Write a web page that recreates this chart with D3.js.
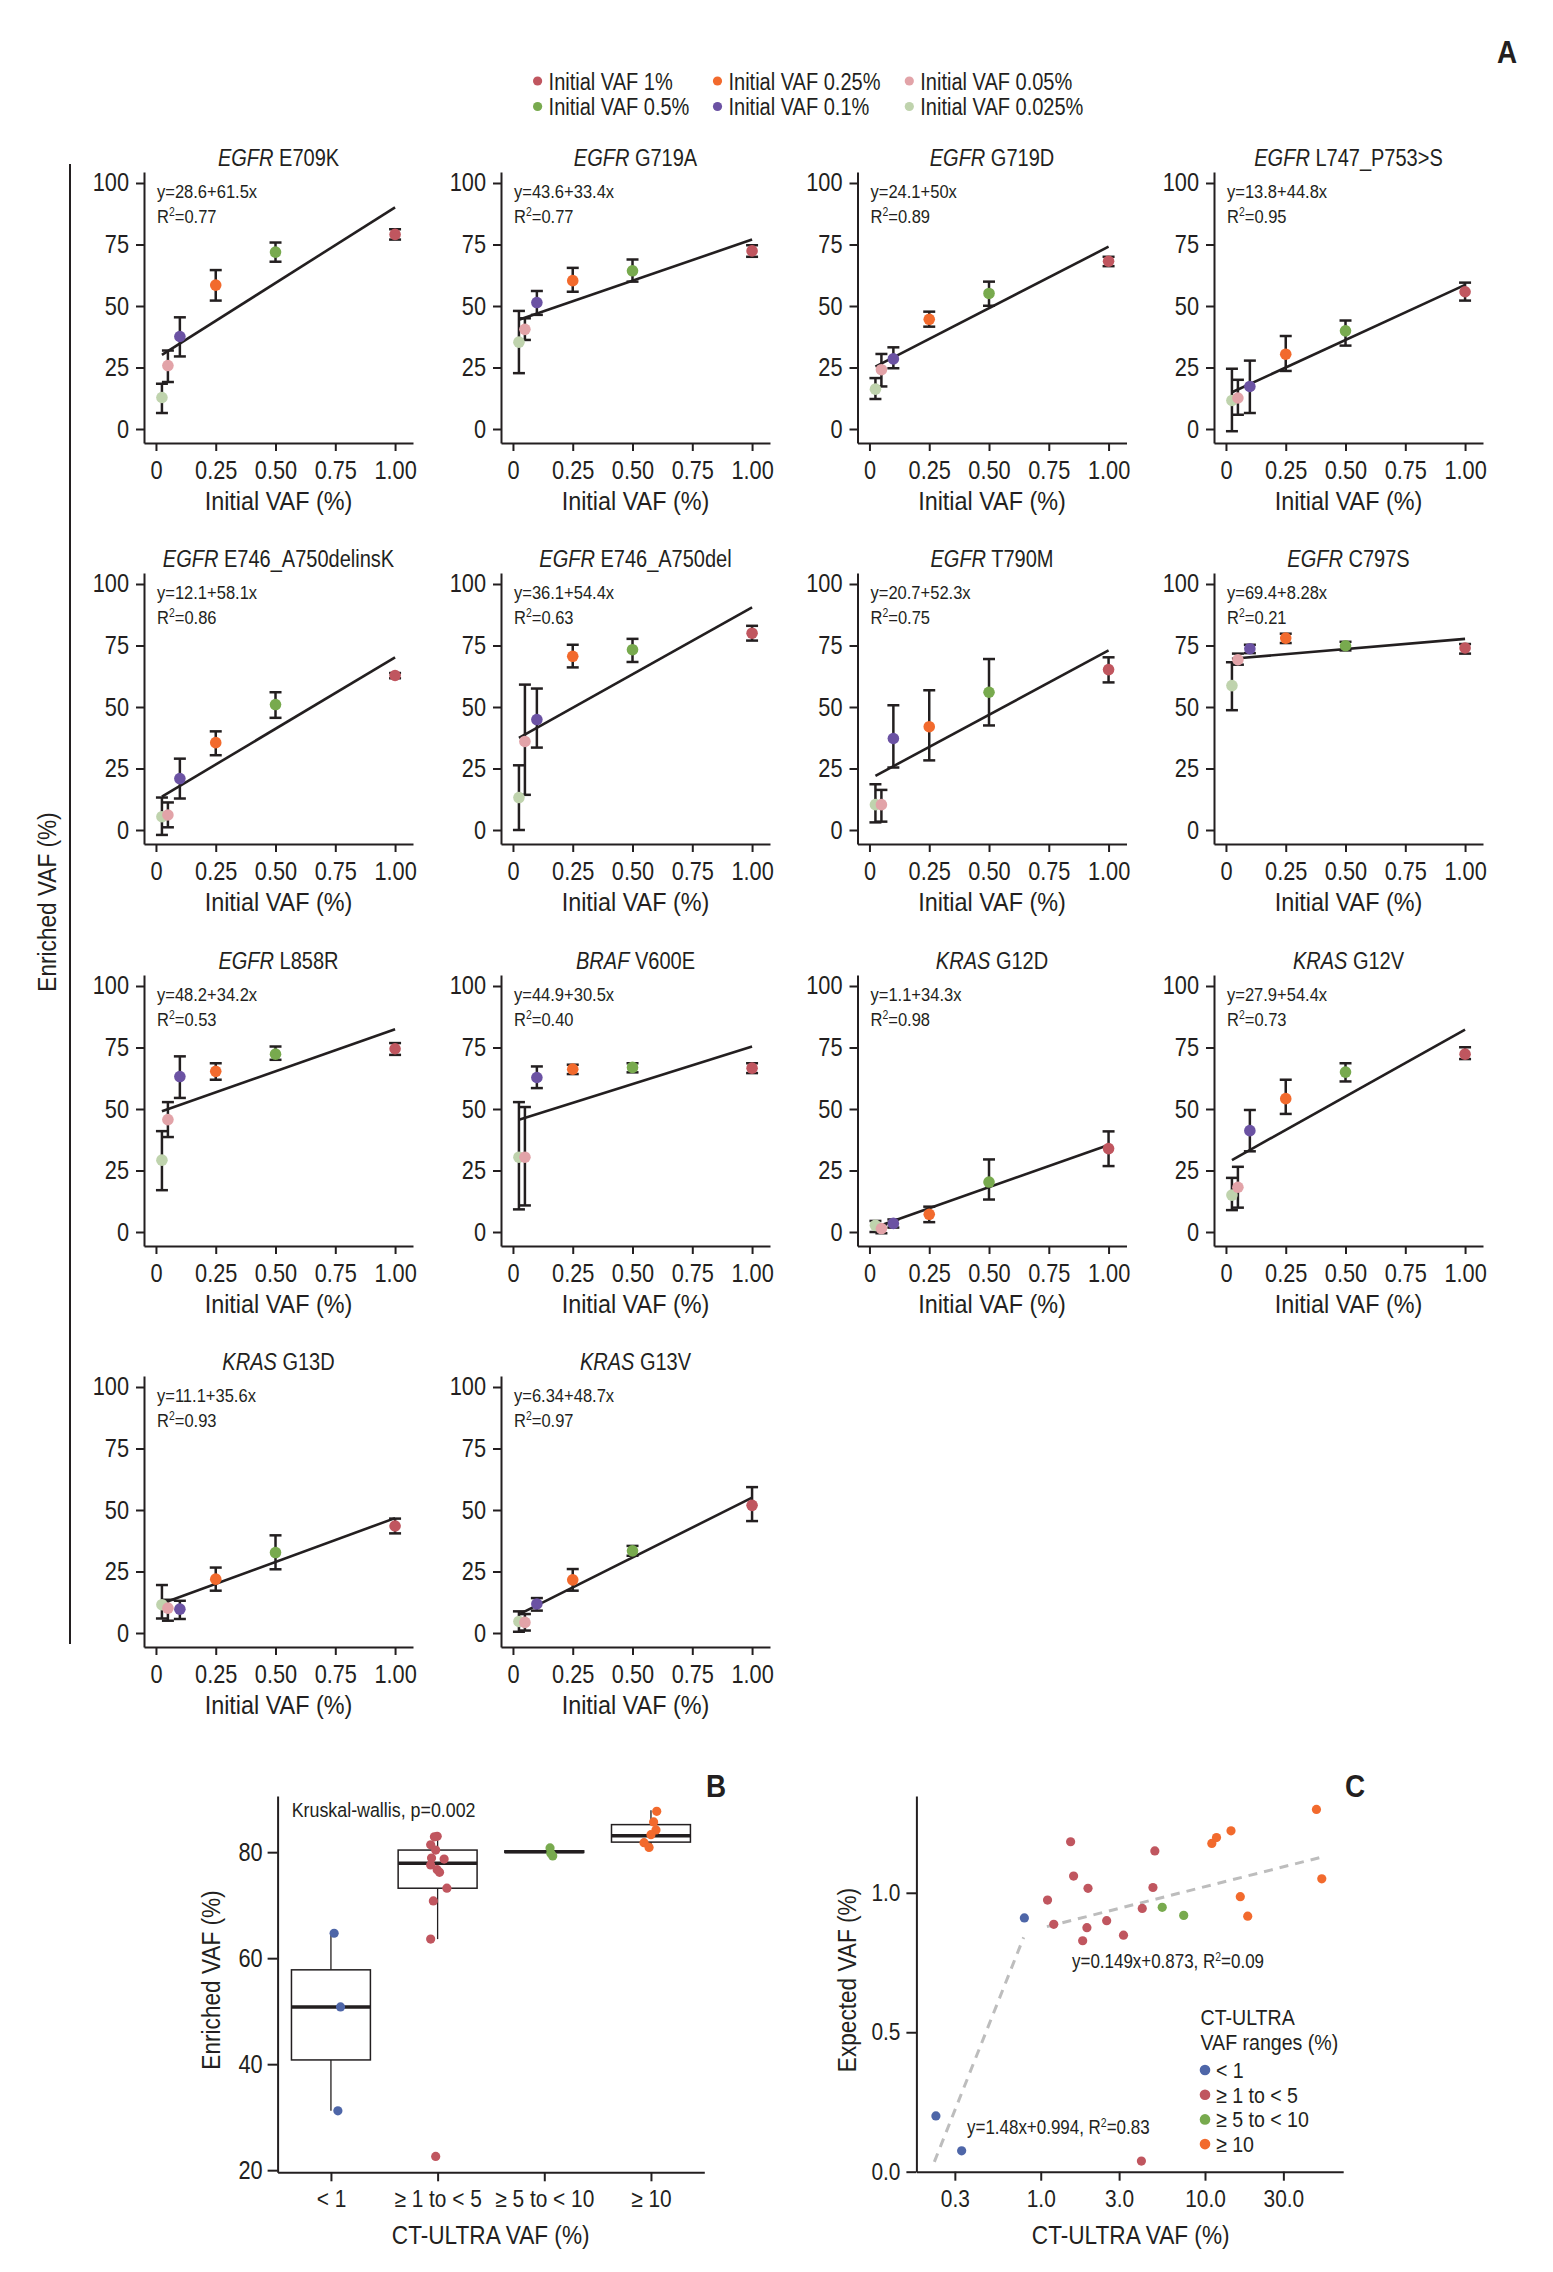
<!DOCTYPE html>
<html><head><meta charset="utf-8">
<script src="https://cdn.jsdelivr.net/npm/d3@7"></script>
<style>
body{margin:0;background:#fff;}
svg{display:block;font-family:"Liberation Sans",Arial,Helvetica,sans-serif;}
text{white-space:pre;}
</style></head><body>
<svg id="chart" width="1553" height="2272"></svg>
<script>
// ---------------- Panel A data ----------------
const initialVAF = [0.025, 0.05, 0.1, 0.25, 0.5, 1];
const vafColors = ["#bfd3ad", "#e2a3a8", "#6b52a3", "#f26a2d", "#78aa4e", "#c0565f"];
const legendOrder = [5, 4, 3, 2, 1, 0]; // 1%,0.5%,0.25%,0.1%,0.05%,0.025%
const vafLabels = ["Initial VAF 0.025%", "Initial VAF 0.05%", "Initial VAF 0.1%", "Initial VAF 0.25%", "Initial VAF 0.5%", "Initial VAF 1%"];
const xTicks = [0, 0.25, 0.5, 0.75, 1];
const xTickLabels = ["0", "0.25", "0.50", "0.75", "1.00"];
const yTicks = [0, 25, 50, 75, 100];

const genes = ["EGFR","EGFR","EGFR","EGFR","EGFR","EGFR","EGFR","EGFR","EGFR","BRAF","KRAS","KRAS","KRAS","KRAS"];
const variants = ["E709K","G719A","G719D","L747_P753>S","E746_A750delinsK","E746_A750del","T790M","C797S","L858R","V600E","G12D","G12V","G13D","G13V"];
const intercepts = [28.6, 43.6, 24.1, 13.8, 12.1, 36.1, 20.7, 69.4, 48.2, 44.9, 1.1, 27.9, 11.1, 6.34];
const slopes = [61.5, 33.4, 50, 44.8, 58.1, 54.4, 52.3, 8.28, 34.2, 30.5, 34.3, 54.4, 35.6, 48.7];
const r2Values = [0.77, 0.77, 0.89, 0.95, 0.86, 0.63, 0.75, 0.21, 0.53, 0.40, 0.98, 0.73, 0.93, 0.97];

const meanVAF = [
  [12.8, 25.8, 37.6, 58.5, 71.9, 79.1],
  [35.3, 40.5, 51.4, 60.3, 64.3, 72.4],
  [16.2, 24.1, 28.5, 44.6, 55.1, 68.2],
  [11.6, 12.6, 17.3, 30.4, 39.9, 55.8],
  [5.4, 6.1, 20.9, 35.5, 51.0, 62.8],
  [13.2, 36.0, 44.9, 70.6, 73.3, 80.0],
  [10.3, 10.3, 37.2, 42.0, 56.0, 65.2],
  [58.7, 69.2, 73.7, 78.0, 74.9, 74.0],
  [29.2, 45.7, 63.2, 65.3, 72.3, 74.5],
  [30.4, 30.4, 62.8, 66.2, 66.9, 66.6],
  [2.7, 1.4, 3.5, 7.2, 20.3, 33.9],
  [15.0, 18.2, 41.2, 54.2, 65.0, 72.3],
  [11.5, 10.1, 9.7, 21.9, 32.7, 43.5],
  [4.7, 4.3, 11.8, 21.6, 33.4, 51.9]
];
const lowerVAF = [
  [6.5, 19.1, 29.5, 52.2, 68.0, 77.0],
  [22.7, 36.2, 46.4, 55.8, 59.9, 70.0],
  [12.2, 17.3, 24.7, 41.6, 50.1, 66.2],
  [-0.9, 5.8, 6.5, 23.6, 33.9, 52.2],
  [-2.0, 1.1, 12.8, 30.4, 45.6, 61.7],
  [0.0, 14.3, 33.5, 66.1, 68.3, 77.0],
  [3.1, 3.4, 25.4, 28.3, 42.5, 60.0],
  [48.7, 67.2, 71.9, 76.0, 73.0, 71.7],
  [17.0, 38.6, 54.5, 61.9, 70.0, 72.0],
  [9.2, 10.8, 58.5, 64.2, 64.9, 64.6],
  [0.0, -0.5, 1.8, 4.0, 13.2, 26.8],
  [8.9, 9.9, 32.8, 48.0, 61.2, 70.3],
  [5.9, 5.0, 5.7, 17.2, 25.9, 40.5],
  [0.5, 1.0, 9.1, 17.2, 31.4, 45.5]
];
const upperVAF = [
  [18.4, 31.9, 45.4, 64.6, 75.8, 81.2],
  [48.0, 45.0, 56.1, 65.5, 68.9, 74.7],
  [20.7, 30.5, 33.2, 47.7, 59.9, 70.0],
  [24.5, 20.0, 27.8, 37.8, 44.1, 59.5],
  [13.2, 11.2, 29.0, 40.1, 56.0, 63.8],
  [26.3, 59.1, 57.5, 75.3, 77.7, 83.0],
  [18.6, 16.3, 50.7, 56.8, 69.5, 70.2],
  [68.2, 71.7, 75.3, 79.8, 76.5, 75.6],
  [41.0, 52.8, 71.4, 68.6, 75.4, 76.8],
  [52.8, 50.8, 67.3, 68.0, 68.6, 68.6],
  [4.5, 3.1, 5.1, 10.3, 29.5, 40.9],
  [22.0, 26.5, 49.6, 61.9, 68.6, 75.1],
  [19.5, 13.5, 13.1, 26.6, 39.7, 46.5],
  [8.8, 7.7, 14.2, 26.0, 35.4, 59.3]
];

// ---------------- Panel B data ----------------
const rangeCats = ["< 1", "≥ 1 to < 5", "≥ 5 to < 10", "≥ 10"];
const rangeColors = ["#4e66a8", "#c0565f", "#78aa4e", "#f26a2d"];
const bQ1 = [40.8, 73.2, 79.95, 81.9];
const bMedian = [50.8, 77.9, 80.1, 83.1];
const bQ3 = [57.8, 80.4, 80.25, 85.2];
const bWhiskLo = [31.2, 63.6, 79.95, 80.9];
const bWhiskHi = [64.7, 83.0, 80.25, 87.9];
const bPoints = [
  [64.7, 50.8, 31.2],
  [83.0, 82.9, 81.4, 80.4, 78.9, 78.7, 77.6, 76.7, 76.2, 73.2, 70.8, 63.6, 22.6],
  [80.8, 79.3, 79.8],
  [87.7, 85.7, 84.2, 83.3, 81.8, 80.9]
];
const bJitter = [
  [0.03, 0.09, 0.065],
  [-0.004, -0.03, -0.065, -0.018, -0.057, 0.061, -0.065, -0.004, 0.018, 0.087, -0.04, -0.065, -0.018],
  [0.054, 0.079, 0.061],
  [0.054, 0.025, 0.047, 0.0, -0.065, -0.018]
];
const bYTicks = [20, 40, 60, 80];

// ---------------- Panel C data ----------------
const cCTultra = [
  [0.23, 0.33, 0.795],
  [1.1, 1.52, 1.585, 1.2, 1.94, 1.91, 1.8, 2.52, 3.19, 4.15, 4.82, 4.95, 4.1],
  [5.49, 7.42],
  [11.0, 11.75, 14.4, 16.4, 18.2, 47.7, 51.4]
];
const cExpected = [
  [0.2, 0.075, 0.91],
  [0.974, 1.183, 1.06, 0.887, 1.016, 0.875, 0.828, 0.9, 0.848, 0.944, 1.019, 1.15, 0.038],
  [0.948, 0.919],
  [1.177, 1.198, 1.222, 0.986, 0.916, 1.299, 1.05]
];
const cFitSlope = [1.48, 0.149];
const cFitIntercept = [0.994, 0.873];
const cFitFrom = [0.225, 1.09];
const cFitTo = [0.787, 50.9];
const cFitLabels = ["y=1.48x+0.994, R", "y=0.149x+0.873, R"];
const cFitR2 = ["=0.83", "=0.09"];
const cXTicks = [0.3, 1, 3, 10, 30];
const cYTicks = [0, 0.5, 1.0];

// ---------------- drawing ----------------
const SX = 0.87;
const INK = "#231f20";
const svg = d3.select("#chart");
svg.append("rect").attr("width", 1553).attr("height", 2272).attr("fill", "#fff");

function ctext(parent, x, y, o = {}) {
  let tr = `translate(${x},${y})`;
  if (o.rotate) tr += ` rotate(${o.rotate})`;
  tr += ` scale(${o.sx || SX},1)`;
  return parent.append("text").attr("transform", tr)
    .attr("text-anchor", o.anchor || "start")
    .attr("font-size", o.size || 24)
    .attr("font-weight", o.weight || 400)
    .attr("fill", INK);
}
function styleAxis(sel, orient, size, tick, pad) {
  sel.select(".domain").attr("stroke", INK).attr("stroke-width", 2);
  sel.selectAll(".tick line").attr("stroke", INK).attr("stroke-width", 2);
  const t = sel.selectAll(".tick text").attr("fill", INK).attr("font-size", size)
    .attr("font-family", "'Liberation Sans',Arial,sans-serif")
    .attr("transform", `scale(${SX},1)`);
  if (orient === "left") t.attr("x", -(tick + pad) / SX);
}

// Panel A
const colX = [144, 501, 857.5, 1214];
const rowY = [183, 584, 986, 1387];
const gA = svg.append("g");

genes.forEach((gene, i) => {
  const ax = colX[i % 4], ty = rowY[Math.floor(i / 4)];
  const x = d3.scaleLinear().domain([-0.05, 1.075]).range([ax, ax + 269]);
  const y = d3.scaleLinear().domain([-5.69, 104.47]).range([ty + 260, ty - 11]);
  const g = gA.append("g");

  const xa = g.append("g").attr("transform", `translate(0,${ty + 260})`)
    .call(d3.axisBottom(x).tickValues(xTicks).tickFormat((d, j) => xTickLabels[j])
      .tickSize(8).tickPadding(10).tickSizeOuter(0));
  styleAxis(xa, "bottom", 25, 8, 10);
  const ya = g.append("g").attr("transform", `translate(${ax},0)`)
    .call(d3.axisLeft(y).tickValues(yTicks).tickSize(8).tickPadding(7).tickSizeOuter(0));
  styleAxis(ya, "left", 25, 8, 7);

  // regression line
  g.append("line")
    .attr("x1", x(initialVAF[0])).attr("y1", y(intercepts[i] + slopes[i] * initialVAF[0]))
    .attr("x2", x(1)).attr("y2", y(intercepts[i] + slopes[i] * 1))
    .attr("stroke", INK).attr("stroke-width", 2.6);

  // error bars
  initialVAF.forEach((v, j) => {
    const cx = x(v), y1 = y(lowerVAF[i][j]), y2 = y(upperVAF[i][j]);
    g.append("line").attr("x1", cx).attr("x2", cx).attr("y1", y1).attr("y2", y2)
      .attr("stroke", INK).attr("stroke-width", 2.5);
    [y1, y2].forEach(yy => g.append("line").attr("x1", cx - 6).attr("x2", cx + 6)
      .attr("y1", yy).attr("y2", yy).attr("stroke", INK).attr("stroke-width", 2.5));
  });
  // points
  initialVAF.forEach((v, j) => {
    g.append("circle").attr("cx", x(v)).attr("cy", y(meanVAF[i][j])).attr("r", 5.8)
      .attr("fill", vafColors[j]);
  });

  // title
  const t = ctext(g, ax + 134.5, ty - 17, { size: 23, anchor: "middle" });
  t.append("tspan").attr("font-style", "italic").text(gene);
  t.append("tspan").text(" " + variants[i]);

  // annotation
  ctext(g, ax + 13, ty + 15, { size: 19 }).text(`y=${intercepts[i]}+${slopes[i]}x`);
  const r = ctext(g, ax + 13, ty + 40, { size: 19 });
  r.append("tspan").text("R");
  r.append("tspan").attr("font-size", 12).attr("dy", -7).text("2");
  r.append("tspan").attr("dy", 7).text("=" + r2Values[i].toFixed(2));

  // x label
  ctext(g, ax + 134.5, ty + 327, { size: 26, anchor: "middle", sx: 0.9 }).text("Initial VAF (%)");
});

// legend A
const legX = [537.6, 717.5, 909.3], legY = [81, 106.5];
legendOrder.forEach((j, k) => {
  const cx = legX[Math.floor(k / 2)], cy = legY[k % 2];
  gA.append("circle").attr("cx", cx).attr("cy", cy).attr("r", 4.6).attr("fill", vafColors[j]);
  ctext(gA, cx + 11, cy + 8.5, { size: 23 }).text(vafLabels[j]);
});
// big left bracket and label
gA.append("line").attr("x1", 70).attr("x2", 70).attr("y1", 164).attr("y2", 1644)
  .attr("stroke", INK).attr("stroke-width", 2);
ctext(gA, 56, 902, { size: 26, anchor: "middle", rotate: -90 }).text("Enriched VAF (%)");
ctext(gA, 1497, 63, { size: 32, weight: 700 }).text("A");

// Panel B
const gB = svg.append("g");
const xb = d3.scalePoint().domain(rangeCats).range([277.6, 704.3]).padding(0.5);
const yb = d3.scaleLinear().domain([19.6, 90.6]).range([2172.3, 1796]);
const stepB = xb.step();
const boxW = 0.74 * stepB;
const xbA = gB.append("g").attr("transform", `translate(0,2172.3)`)
  .call(d3.axisBottom(xb).tickSize(9).tickPadding(9).tickSizeOuter(0));
styleAxis(xbA, "bottom", 24, 9, 9);
const ybA = gB.append("g").attr("transform", `translate(277.6,0)`)
  .call(d3.axisLeft(yb).tickValues(bYTicks).tickSize(10).tickPadding(5).tickSizeOuter(0));
styleAxis(ybA, "left", 25, 10, 5);

rangeCats.forEach((c, i) => {
  const cx = xb(c);
  gB.append("line").attr("x1", cx).attr("x2", cx).attr("y1", yb(bQ3[i])).attr("y2", yb(bWhiskHi[i]))
    .attr("stroke", INK).attr("stroke-width", 1.3);
  gB.append("line").attr("x1", cx).attr("x2", cx).attr("y1", yb(bQ1[i])).attr("y2", yb(bWhiskLo[i]))
    .attr("stroke", INK).attr("stroke-width", 1.3);
  gB.append("rect").attr("x", cx - boxW / 2).attr("width", boxW)
    .attr("y", yb(bQ3[i])).attr("height", yb(bQ1[i]) - yb(bQ3[i]))
    .attr("fill", "#fff").attr("stroke", INK).attr("stroke-width", 1.5);
  gB.append("line").attr("x1", cx - boxW / 2).attr("x2", cx + boxW / 2)
    .attr("y1", yb(bMedian[i])).attr("y2", yb(bMedian[i]))
    .attr("stroke", INK).attr("stroke-width", 3.5);
});
rangeCats.forEach((c, i) => {
  bPoints[i].forEach((v, k) => {
    gB.append("circle").attr("cx", xb(c) + bJitter[i][k] * stepB).attr("cy", yb(v)).attr("r", 4.6)
      .attr("fill", rangeColors[i]);
  });
});
ctext(gB, 291.7, 1816.7, { size: 20.5 }).text("Kruskal-wallis, p=0.002");
ctext(gB, 220, 1980, { size: 26, anchor: "middle", rotate: -90 }).text("Enriched VAF (%)");
ctext(gB, 490.7, 2244, { size: 26, anchor: "middle" }).text("CT-ULTRA VAF (%)");
ctext(gB, 706, 1797, { size: 32, weight: 700 }).text("B");

// Panel C
const gC = svg.append("g");
const xc = d3.scaleLog().domain([0.175, 69.4]).range([916.4, 1343.2]);
const yc = d3.scaleLinear().domain([0, 1.347]).range([2171.7, 1796]);
const xcA = gC.append("g").attr("transform", `translate(0,2171.7)`)
  .call(d3.axisBottom(xc).tickValues(cXTicks).tickFormat(d3.format(".1f"))
    .tickSize(9).tickPadding(9).tickSizeOuter(0));
styleAxis(xcA, "bottom", 24, 9, 9);
const ycA = gC.append("g").attr("transform", `translate(916.4,0)`)
  .call(d3.axisLeft(yc).tickValues(cYTicks).tickFormat(d3.format(".1f"))
    .tickSize(10).tickPadding(6).tickSizeOuter(0));
styleAxis(ycA, "left", 24, 10, 6);

cFitSlope.forEach((s, i) => {
  const l0 = Math.log10(cFitFrom[i]), l1 = Math.log10(cFitTo[i]);
  gC.append("line")
    .attr("x1", xc(cFitFrom[i])).attr("y1", yc(s * l0 + cFitIntercept[i]))
    .attr("x2", xc(cFitTo[i])).attr("y2", yc(s * l1 + cFitIntercept[i]))
    .attr("stroke", "#bdbdbd").attr("stroke-width", 3).attr("stroke-dasharray", "9,7");
});
cCTultra.forEach((arr, i) => {
  arr.forEach((v, k) => {
    gC.append("circle").attr("cx", xc(v)).attr("cy", yc(cExpected[i][k])).attr("r", 4.6)
      .attr("fill", rangeColors[i]);
  });
});
const cAnnPos = [[967, 2134], [1072, 1968]];
cFitLabels.forEach((lab, i) => {
  const t = ctext(gC, cAnnPos[i][0], cAnnPos[i][1], { size: 19.5 });
  t.append("tspan").text(lab);
  t.append("tspan").attr("font-size", 12).attr("dy", -7).text("2");
  t.append("tspan").attr("dy", 7).text(cFitR2[i]);
});
// legend C
ctext(gC, 1200.5, 2025, { size: 22.5 }).text("CT-ULTRA");
ctext(gC, 1200.5, 2049.5, { size: 22.5 }).text("VAF ranges (%)");
rangeCats.forEach((c, i) => {
  const cy = 2070 + i * 24.7;
  gC.append("circle").attr("cx", 1205).attr("cy", cy).attr("r", 5.3).attr("fill", rangeColors[i]);
  ctext(gC, 1216, cy + 8, { size: 22.5 }).text(c);
});
ctext(gC, 856, 1980, { size: 26, anchor: "middle", rotate: -90 }).text("Expected VAF (%)");
ctext(gC, 1130.7, 2244, { size: 26, anchor: "middle" }).text("CT-ULTRA VAF (%)");
ctext(gC, 1345, 1797, { size: 32, weight: 700 }).text("C");
</script>
</body></html>
